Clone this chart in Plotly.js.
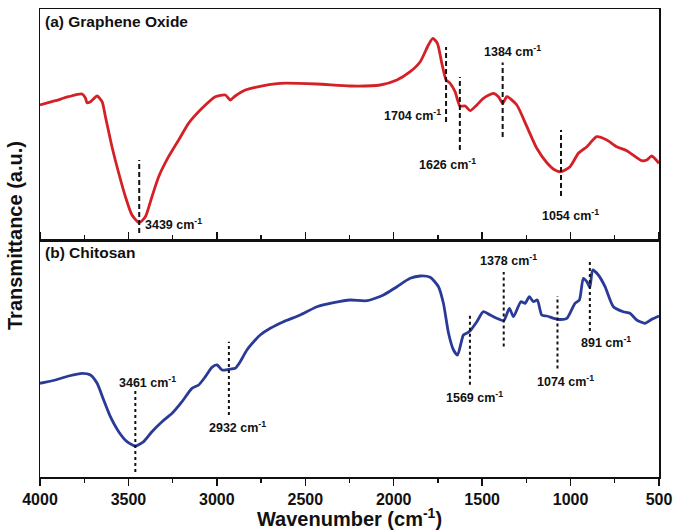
<!DOCTYPE html>
<html>
<head>
<meta charset="utf-8">
<script src="https://cdn.plot.ly/plotly-3.0.1.min.js"></script>
<style>html,body{margin:0;padding:0;background:#fff;}#chart{width:675px;height:530px;}</style>
</head>
<body>
<div id="chart"></div>
<script>
// ---- Data ----
const goWavenumber = [4000,3913,3838,3762,3743,3734,3715,3677,3649,3630,3593,3555,3517,3480,3439,3404,3367,3329,3273,3216,3160,3084,3009,2952,2924,2896,2839,2783,2642,2434,2246,2076,1982,1907,1850,1804,1779,1753,1728,1704,1681,1653,1626,1596,1568,1530,1493,1436,1408,1384,1360,1304,1247,1191,1134,1088,1054,1003,956,908,852,795,739,682,598,569,541,500];
const goTransmittance = [135,139.3,143.3,146,142,137.3,138.3,144,138.3,123.3,93.3,67,43.3,25,17.3,23.3,43.3,63.3,83.3,100,116.7,131.7,143.3,145,140,144,150,152.7,156.7,156,154,155,160,168.3,178.3,195,201.7,196.7,176.7,160,156.7,148.3,134,134,129.3,135,141.7,146.7,143.3,136.7,143.3,135,113.3,91.7,77.3,70,68.3,73.3,86.7,93.3,103.3,100,93.3,89.3,79.3,80,84,76.7];

const chWavenumber = [4000,3913,3838,3762,3715,3677,3640,3602,3555,3508,3461,3414,3367,3310,3253,3197,3141,3103,3065,3028,2999,2971,2932,2896,2868,2830,2783,2755,2698,2623,2529,2434,2340,2246,2152,2058,1982,1907,1850,1794,1747,1719,1690,1662,1639,1606,1585,1569,1530,1493,1455,1417,1378,1346,1323,1281,1257,1233,1210,1188,1163,1134,1074,1021,975,950,928,908,891,875,843,805,758,702,664,626,579,541,500];
const chTransmittance = [93.7,97,101,103.7,102,93.7,77,60.3,45.3,35.3,31,35.3,45.3,55.3,63.7,75.3,88.7,92,100.3,109.7,112,107,107.7,108.7,115.3,127,137,142,148.7,155.3,162,170.3,174.3,177,176.3,182,190.3,198.7,201,199.7,190.3,173.7,143.7,127,122,142,144,146,155.3,165.3,162,158.7,156.3,168.7,160.3,175.3,173.7,180.3,175.3,177,162,161,157.7,158.7,173.7,177,198.7,195.3,189.7,207,202,190.3,170.3,165.3,163.7,157,153.7,157.7,161];

const goPeaks = [3439,1704,1626,1384,1054];
const chPeaks = [3461,2932,1569,1378,1074,891];

const xTickVals = [4000,3500,3000,2500,2000,1500,1000,500];
const xTickText = ['4000','3500','3000','2500','2000','1500','1000','500'];

const panelTitles = ['(a) Graphene Oxide','(b) Chitosan'];

// ---- Styling / placement of peak markers (not data) ----
const goMarkStyle = [
  {y0:7,   y1:80,   ly:16,  xanchor:'left',   xshift:4},
  {y0:118, y1:193,  ly:125, xanchor:'right',  xshift:-3},
  {y0:90,  y1:163,  ly:76,  xanchor:'center', xshift:-12},
  {y0:103, y1:177.5,ly:189, xanchor:'center', xshift:10},
  {y0:44,  y1:110,  ly:25.5,xanchor:'center', xshift:9}
];
const chMarkStyle = [
  {y0:5,    y1:87,   ly:95.3, xanchor:'center', xshift:12},
  {y0:62,   y1:135.3,ly:50.3, xanchor:'center', xshift:9},
  {y0:92.3, y1:164.2,ly:80,   xanchor:'center', xshift:5},
  {y0:130.5,y1:205,  ly:217.3,xanchor:'center', xshift:5},
  {y0:108.5,y1:181,  ly:96,   xanchor:'center', xshift:8},
  {y0:146,  y1:217.3,ly:135.5,xanchor:'center', xshift:16}
];

const FONT = 'Arial, "Liberation Sans", sans-serif';
const splitFrac = 237/468;

const traces = [
  {x: goWavenumber, y: goTransmittance, xaxis:'x', yaxis:'y', mode:'lines',
   line:{color:'#d42027', width:2.8, shape:'spline', smoothing:0.6}, hoverinfo:'skip', showlegend:false},
  {x: chWavenumber, y: chTransmittance, xaxis:'x', yaxis:'y2', mode:'lines',
   line:{color:'#2a3a97', width:2.8, shape:'spline', smoothing:0.6}, hoverinfo:'skip', showlegend:false}
];

const shapes = [];
const annotations = [];
goPeaks.forEach((p,i)=>{
  const s = goMarkStyle[i];
  shapes.push({type:'line', xref:'x', yref:'y', x0:p, x1:p, y0:s.y0, y1:s.y1,
    line:{color:'#111', width:2, dash:'5px,3px'}});
  annotations.push({x:p, y:s.ly, xref:'x', yref:'y', text: p + ' cm<sup>-1</sup>', showarrow:false,
    xanchor:s.xanchor, xshift:s.xshift, yanchor:'middle', font:{family:FONT, size:12.5, color:'#111', weight:'bold'}});
});
chPeaks.forEach((p,i)=>{
  const s = chMarkStyle[i];
  shapes.push({type:'line', xref:'x', yref:'y2', x0:p, x1:p, y0:s.y0, y1:s.y1,
    line:{color:'#111', width:2, dash:'dot'}});
  annotations.push({x:p, y:s.ly, xref:'x', yref:'y2', text: p + ' cm<sup>-1</sup>', showarrow:false,
    xanchor:s.xanchor, xshift:s.xshift, yanchor:'middle', font:{family:FONT, size:12.5, color:'#111', weight:'bold'}});
});

annotations.push({xref:'paper', yref:'paper', x:0.005, y:(477-21.7)/468, xanchor:'left', yanchor:'middle',
  text:panelTitles[0], showarrow:false, font:{family:FONT, size:15.5, color:'#111', weight:'bold'}});
annotations.push({xref:'paper', yref:'paper', x:0.005, y:(477-253)/468, xanchor:'left', yanchor:'middle',
  text:panelTitles[1], showarrow:false, font:{family:FONT, size:15.5, color:'#111', weight:'bold'}});
annotations.push({xref:'paper', yref:'paper', x:-25/619, y:(477-236)/468, xanchor:'center', yanchor:'middle',
  textangle:-90, text:'Transmittance (a.u.)', showarrow:false, font:{family:FONT, size:20, color:'#111', weight:'bold'}});

const layout = {
  width:675, height:530,
  margin:{l:40, r:16, t:9, b:53},
  paper_bgcolor:'#fff', plot_bgcolor:'#fff',
  font:{family:FONT, color:'#111'},
  showlegend:false,
  xaxis:{
    range:[4000,500], anchor:'y2', tickvals:xTickVals, ticktext:xTickText,
    ticks:'outside', ticklen:7, tickwidth:1.5, tickcolor:'#111',
    minor:{dtick:250, ticks:'outside', ticklen:4, tickwidth:1.2, tickcolor:'#111'},
    showline:true, linecolor:'#111', linewidth:1.5, mirror:'all',
    showgrid:false, zeroline:false,
    tickfont:{family:FONT, size:16, color:'#111', weight:'bold'},
    title:{text:'Wavenumber (cm<sup>-1</sup>)', font:{family:FONT, size:20, color:'#111', weight:'bold'}, standoff:6}
  },
  yaxis:{
    domain:[splitFrac,1], range:[0,231], anchor:'x',
    showticklabels:false, ticks:'', showgrid:false, zeroline:false,
    showline:true, linecolor:'#111', linewidth:1.5, mirror:true
  },
  yaxis2:{
    domain:[0,splitFrac], range:[0,237], anchor:'x',
    showticklabels:false, ticks:'', showgrid:false, zeroline:false,
    showline:true, linecolor:'#111', linewidth:1.5, mirror:true
  },
  shapes:shapes,
  annotations:annotations
};

Plotly.newPlot('chart', traces, layout, {displayModeBar:false, staticPlot:true});
</script>
</body>
</html>
